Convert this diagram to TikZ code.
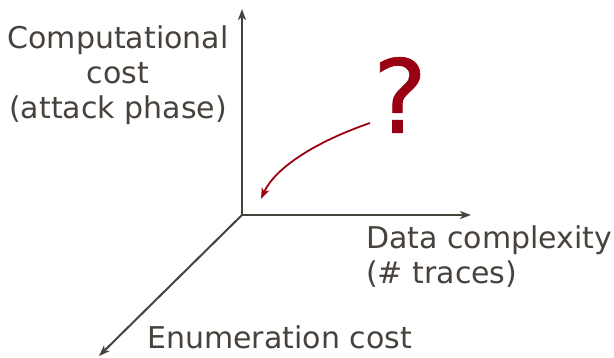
\documentclass[tikz,border=0pt]{standalone}
\usepackage{fontspec}
\setmainfont{DejaVu Sans}
\newfontfamily\qfont[FakeBold=0.7]{DejaVu Sans}
\usetikzlibrary{arrows.meta}
\definecolor{txtgray}{HTML}{48423D}
\definecolor{qred}{HTML}{990012}
\begin{document}
\begin{tikzpicture}[x=1pt,y=-1pt,
  axis/.style={draw=txtgray,line width=2pt,-{Stealth[length=11pt,width=8pt,inset=3pt]}},
  lbl/.style={text=txtgray,font=\fontsize{30}{35}\selectfont,inner sep=0pt},
  qarrow/.style={draw=qred,line width=1.8pt,-{Stealth[length=11pt,width=8pt,inset=3pt]}}]
\useasboundingbox (0,0) rectangle (614,358);
\coordinate (o) at (242,215);
\coordinate (top) at (242,9);
\coordinate (right) at (471,215);
\coordinate (dl) at (99,356);
\draw[axis] (o) -- (top);
\draw[axis] (o) -- (right);
\draw[axis] (o) -- (dl);
\node[lbl,align=center] (comp) at (118,75) {Computational\\cost\\(attack phase)};
\node[lbl,align=left,anchor=west] (data) at (366,257) {Data complexity\\(\# traces)};
\node[lbl,anchor=west] (enum) at (147,337) {Enumeration cost};
\node[text=qred,font=\qfont\fontsize{102}{102}\selectfont,inner sep=0pt] (q) at (400,95) {?};
\coordinate (qs) at (370,123);
\coordinate (qe) at (261,199);
\draw[qarrow] (qs) .. controls (315,142) and (275,168) .. (qe);
\end{tikzpicture}
\end{document}
